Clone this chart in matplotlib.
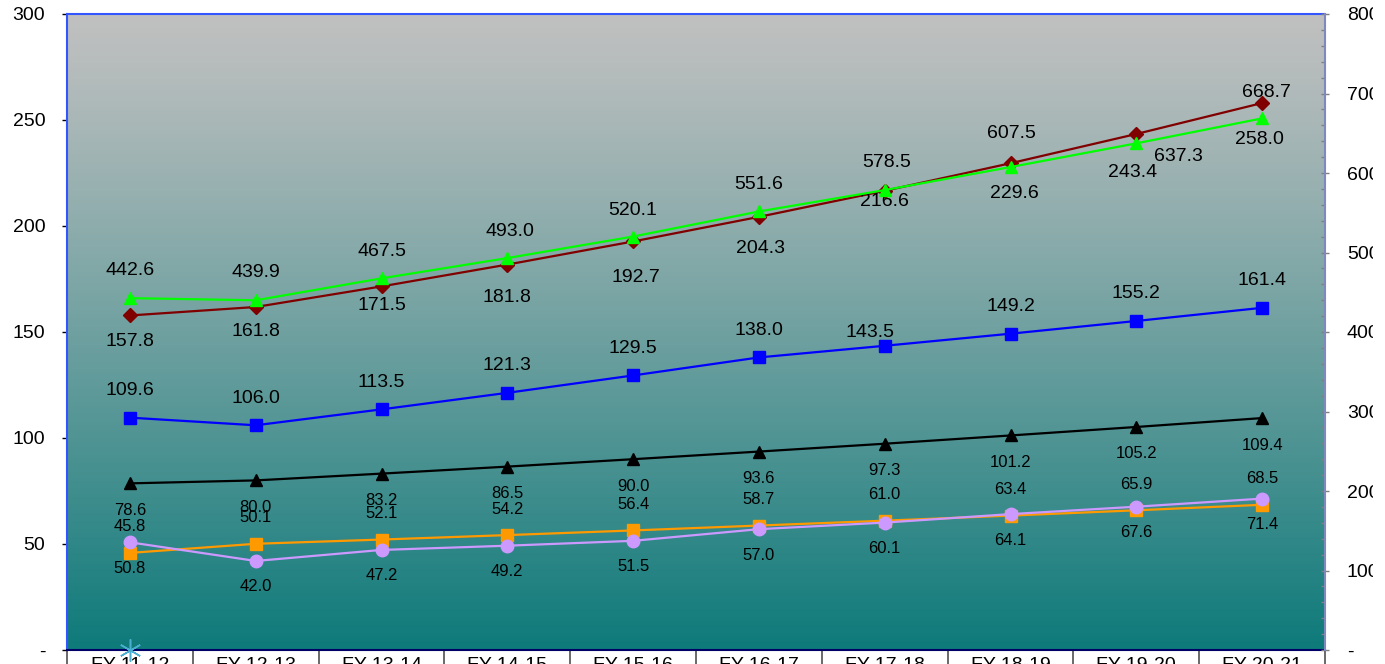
import numpy as np
import matplotlib
matplotlib.use("Agg")
import matplotlib.pyplot as plt
from matplotlib.patches import Rectangle
from matplotlib.ticker import FixedLocator, MultipleLocator, FuncFormatter

plt.rcParams['font.family'] = ['Liberation Sans', 'DejaVu Sans']

years = ['FY 11-12', 'FY 12-13', 'FY 13-14', 'FY 14-15', 'FY 15-16',
         'FY 16-17', 'FY 17-18', 'FY 18-19', 'FY 19-20', 'FY 20-21']

# left axis series
maroon_vals = [157.8, 161.8, 171.5, 181.8, 192.7, 204.3, 216.6, 229.6, 243.4, 258.0]
blue_vals = [109.6, 106.0, 113.5, 121.3, 129.5, 138.0, 143.5, 149.2, 155.2, 161.4]
black_vals = [78.6, 80.0, 83.2, 86.5, 90.0, 93.6, 97.3, 101.2, 105.2, 109.4]
orange_vals = [45.8, 50.1, 52.1, 54.2, 56.4, 58.7, 61.0, 63.4, 65.9, 68.5]
lilac_vals = [50.8, 42.0, 47.2, 49.2, 51.5, 57.0, 60.1, 64.1, 67.6, 71.4]
star_vals = [0.0]

# right axis series
green_vals = [442.6, 439.9, 467.5, 493.0, 520.1, 551.6, 578.5, 607.5, 637.3, 668.7]

left_ticks = [0, 50, 100, 150, 200, 250, 300]
right_ticks = [0, 100, 200, 300, 400, 500, 600, 700, 800]

# hand-placed label nudges (pixels) for the crowded labels
maroon_nudge = [(0, -26), (0, -25), (0, -19), (0, -33), (3, -36),
                (2, -32), (0, -11), (4, -30), (-4, -39), (-3, -36)]
green_nudge = [(0, 28), (0, 28), (0, 27), (3, 27), (0, 26),
               (0, 27), (2, 28), (1, 34), (42, -13), (4, 26)]
blue_nudge = [(0, 27)] * 6 + [(-15, 13)] + [(0, 27)] * 3

W, H = 1385, 664
PX = 72 / 100
fig = plt.figure(figsize=(W / 100, H / 100), dpi=100)
ax = fig.add_axes([67 / W, 14 / H, (1325 - 67) / W, (650 - 14) / H])
x = np.arange(len(years))

# silver -> teal plot area fill
top = np.array([192, 192, 192]) / 255
bot = np.array([14, 122, 122]) / 255
t = np.linspace(0, 1, 256) ** 1.15
grad = top[None, :] * (1 - t[:, None]) + bot[None, :] * t[:, None]
ax.imshow(grad[:, None, :], extent=[-0.5, 9.5, 0, 300], aspect='auto',
          interpolation='bilinear', zorder=0)

ax.set_xlim(-0.5, 9.5)
ax.set_ylim(0, 300)

lw = 1.6
big = 14
small = 12


def series(axis, vals, color, marker, ms, nudges, size, z):
    axis.plot(x[:len(vals)], vals, color=color, lw=lw, marker=marker, ms=ms,
              mec=color, mfc=color, zorder=z, clip_on=False)
    for xi, v, (dx, dy) in zip(x, vals, nudges):
        axis.annotate(f'{v:.1f}', (xi, v), xytext=(dx * PX, dy * PX),
                      textcoords='offset points', ha='center', va='center',
                      fontsize=size, color='black', zorder=z + 1)


below = [(0, -27)] * len(years)

series(ax, maroon_vals, '#800000', 'D', 7.5, maroon_nudge, big, 3)
series(ax, blue_vals, '#0000FF', 's', 8.5, blue_nudge, big, 3)
series(ax, black_vals, '#000000', '^', 9, below, small, 3)
series(ax, orange_vals, '#FF9900', 's', 8.5, [(0, 26)] * len(years), small, 3)
series(ax, lilac_vals, '#CC99FF', 'o', 9, [(0, -26)] * len(years), small, 4)
ax.plot(x[:len(star_vals)], star_vals, ls='none', marker=(6, 2, 0), ms=16,
        mew=1.1, color='#4AAED0', zorder=5, clip_on=False)

ax2 = ax.twinx()
ax2.set_ylim(0, 800)
series(ax2, green_vals, '#00FF00', '^', 9, green_nudge, big, 3)

# category separators below the axis, names centred between them
ax.xaxis.set_major_locator(FixedLocator(np.arange(-0.5, 10, 1)))
ax.xaxis.set_major_formatter(FuncFormatter(lambda v, p: ''))
ax.set_xticks(x, labels=years, minor=True)
ax.tick_params(axis='x', which='major', direction='out', length=14, width=1.2,
               color='#505050')
ax.tick_params(axis='x', which='minor', length=0, pad=5, labelsize=big)

fmt = FuncFormatter(lambda v, p: '-' if v == 0 else f'{v:.0f}')
ax.set_yticks(left_ticks)
ax.yaxis.set_major_formatter(fmt)
ax.tick_params(axis='y', direction='out', length=3.6, width=1, pad=12, labelsize=big)

ax2.set_yticks(right_ticks)
ax2.yaxis.set_major_formatter(fmt)
ax2.yaxis.set_minor_locator(MultipleLocator(20))
ax2.tick_params(axis='y', which='major', direction='inout', length=6, width=1,
                color='#808080', pad=12.8, labelsize=big)
ax2.tick_params(axis='y', which='minor', direction='in', length=3, width=1,
                color='#808080')

for side in ['left', 'top']:
    ax.spines[side].set_color('#3355FF')
    ax.spines[side].set_linewidth(1.5)
ax.spines['bottom'].set_color('#000066')
ax.spines['bottom'].set_linewidth(1.5)
ax.spines['right'].set_visible(False)
for side in ['left', 'top', 'bottom']:
    ax2.spines[side].set_visible(False)
ax2.spines['right'].set_color('#8088C0')
ax2.spines['right'].set_linewidth(1.5)

# the chart frame ends short of the right edge
fig.patches.append(Rectangle((1373 / W, 0), 1, 1, transform=fig.transFigure,
                             facecolor='white', edgecolor='none', zorder=100))

fig.savefig('out.png', dpi=100)
